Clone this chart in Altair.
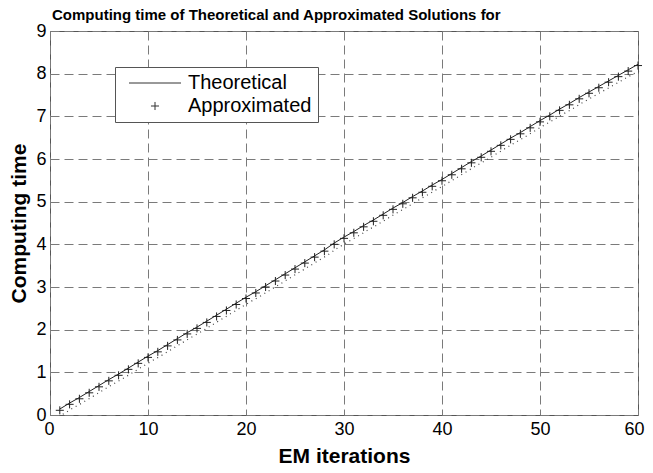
import altair as alt
import pandas as pd

iterations = list(range(1, 61))
theoretical = [0.14, 0.28, 0.41, 0.55, 0.69, 0.83, 0.96, 1.10, 1.24, 1.38,
               1.51, 1.65, 1.79, 1.93, 2.06, 2.20, 2.34, 2.48, 2.62, 2.76,
               2.89, 3.03, 3.17, 3.31, 3.45, 3.59, 3.73, 3.87, 4.03, 4.17,
               4.30, 4.44, 4.57, 4.71, 4.85, 4.98, 5.12, 5.25, 5.39, 5.52,
               5.66, 5.80, 5.94, 6.07, 6.21, 6.35, 6.49, 6.62, 6.76, 6.90,
               7.03, 7.17, 7.30, 7.44, 7.57, 7.70, 7.83, 7.96, 8.09, 8.22]
approximated = [0.11, 0.25, 0.38, 0.52, 0.66, 0.80, 0.93, 1.07, 1.21, 1.35,
                1.48, 1.62, 1.76, 1.90, 2.03, 2.17, 2.31, 2.45, 2.59, 2.73,
                2.86, 3.00, 3.14, 3.28, 3.42, 3.56, 3.70, 3.84, 4.00, 4.14,
                4.27, 4.41, 4.54, 4.68, 4.82, 4.95, 5.09, 5.22, 5.36, 5.49,
                5.63, 5.77, 5.91, 6.04, 6.18, 6.32, 6.46, 6.59, 6.73, 6.87,
                7.00, 7.14, 7.27, 7.41, 7.54, 7.67, 7.80, 7.93, 8.06, 8.19]
series_names = ["Theoretical", "Approximated"]
x_ticks = [0, 10, 20, 30, 40, 50, 60]
y_ticks = [0, 1, 2, 3, 4, 5, 6, 7, 8, 9]

theo_df = pd.DataFrame({"it": iterations, "t": theoretical, "series": "Theoretical"})
appr_df = pd.DataFrame({"it": iterations, "t": approximated, "series": "Approximated"})

FONT = "Liberation Sans, Arial, Helvetica, sans-serif"
LINE_SYM = "M-4,0L4,0"
PLUS_SYM = "M-0.62,0L0.62,0M0,-0.62L0,0.62"

x_enc = alt.X("it:Q", scale=alt.Scale(domain=[0, 60], nice=False),
              axis=alt.Axis(values=x_ticks, title="EM iterations", titleY=47,
                            titleBaseline="alphabetic", labelPadding=5,
                            labelFlush=True, labelFlushOffset=6))
y_enc = alt.Y("t:Q", scale=alt.Scale(domain=[0, 9], nice=False),
              axis=alt.Axis(values=y_ticks, title="Computing time", titleX=-25,
                            titleBaseline="alphabetic", labelPadding=4, labelFlush=False))

theo_line = alt.Chart(theo_df).mark_line(color="#222222", strokeWidth=1).encode(x=x_enc, y=y_enc)

appr_dots = alt.Chart(appr_df).mark_line(color="#444444", strokeWidth=1.2,
                                         strokeDash=[1, 4], xOffset=3, yOffset=4).encode(
    x="it:Q", y="t:Q")

appr_pts = alt.Chart(appr_df).mark_point(filled=False, color="#222222", strokeWidth=1,
                                         opacity=1, size=169).encode(
    x="it:Q", y="t:Q",
    shape=alt.Shape("series:N",
                    scale=alt.Scale(domain=series_names, range=[LINE_SYM, PLUS_SYM]),
                    legend=alt.Legend(title=None, orient="none", legendX=65, legendY=36,
                                      fillColor="white", strokeColor="#555555", padding=6,
                                      symbolSize=169, symbolOffset=24, symbolStrokeWidth=1,
                                      symbolStrokeColor="#333333",
                                      labelFontSize=20, labelOffset=23, rowPadding=3,
                                      labelFont=FONT, labelColor="#000000")),
)

chart = alt.layer(theo_line, appr_dots, appr_pts).properties(
    width=588, height=384,
    autosize=alt.AutoSizeParams(type="none"),
    padding={"left": 42, "top": 23, "right": 7, "bottom": 50},
    title=alt.TitleParams("Computing time of Theoretical and Approximated Solutions for",
                          anchor="start", frame="group", dx=2, offset=-1,
                          fontSize=15, fontWeight="bold", font=FONT, color="#000000"),
).configure(background="white").configure_view(stroke="#555555", strokeWidth=1).configure_axis(
    grid=True, gridColor="#7a7a7a", gridDash=[9, 5], gridWidth=1,
    domain=False, ticks=False,
    labelFont=FONT, labelFontSize=18, labelColor="#000000",
    labelOverlap=False, labelBound=False,
    titleFont=FONT, titleFontSize=21, titleFontWeight="bold", titleColor="#000000",
)

chart.save("out.html", embed_options={"renderer": "svg", "actions": False})
